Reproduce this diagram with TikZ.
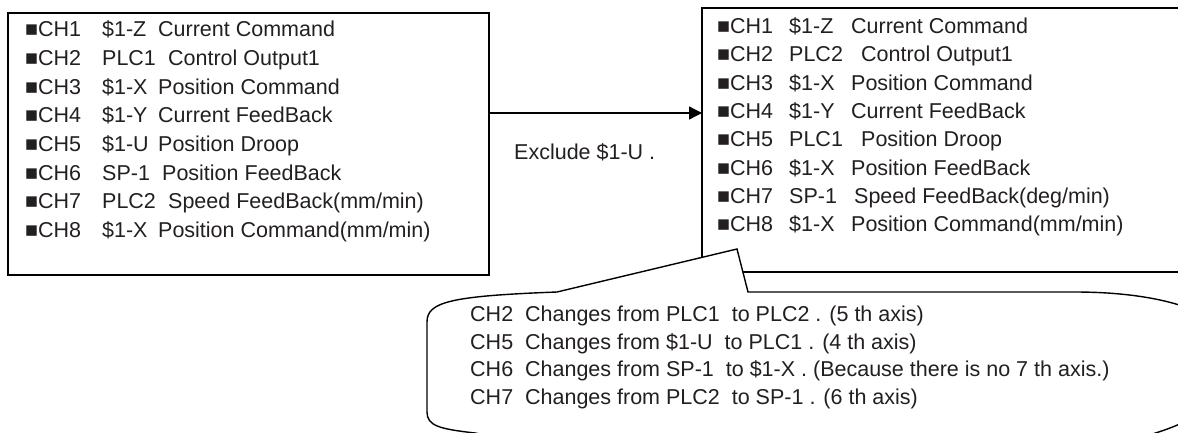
\documentclass[tikz,border=0pt]{standalone}
\usepackage{fontspec}
\setmainfont{Liberation Sans}
\usetikzlibrary{arrows.meta}
\definecolor{ink}{RGB}{35,31,32}
\newcommand\colw[2]{\makebox[#1][l]{#2}}
\begin{document}
\begin{tikzpicture}[x=1pt,y=-1pt,
  box/.style={draw=black, line width=1.4pt, inner sep=0pt, outer sep=0pt},
  txt/.style={anchor=base west, inner sep=0pt, font=\fontsize{21.5}{25}\selectfont, text=ink},
  arr/.style={draw=black, line width=1.3pt, -{Triangle[length=13pt,width=13pt]}},
  callout/.style={draw=black, line width=1.4pt, fill=white, line join=miter}]
\useasboundingbox (0,0) rectangle (1178,432);
\clip (0,0) rectangle (1178,432);
% boxes
\node[box, minimum width=481pt, minimum height=262pt] (lb) at (248.5,144) {};
\node[box, minimum width=560pt, minimum height=264pt] (rb) at (982,140) {};
% left box text
\node[txt] (l1) at (25,36.7)  {\colw{77pt}{■CH1}\colw{56pt}{\$1-Z}Current Command};
\node[txt] (l2) at (25,65.4)  {\colw{77pt}{■CH2}\colw{66pt}{PLC1}Control Output1};
\node[txt] (l3) at (25,94.0)  {\colw{77pt}{■CH3}\colw{56pt}{\$1-X}Position Command};
\node[txt] (l4) at (25,122.7) {\colw{77pt}{■CH4}\colw{56pt}{\$1-Y}Current FeedBack};
\node[txt] (l5) at (25,151.3) {\colw{77pt}{■CH5}\colw{56pt}{\$1-U}Position Droop};
\node[txt] (l6) at (25,180.0) {\colw{77pt}{■CH6}\colw{60pt}{SP-1}Position FeedBack};
\node[txt] (l7) at (25,208.6) {\colw{77pt}{■CH7}\colw{66pt}{PLC2}Speed FeedBack(mm/min)};
\node[txt] (l8) at (25,237.3) {\colw{77pt}{■CH8}\colw{56pt}{\$1-X}Position Command(mm/min)};
% right box text
\node[txt] (r1) at (717,33.3)  {\colw{72pt}{■CH1}\colw{62pt}{\$1-Z}Current Command};
\node[txt] (r2) at (717,61.6)  {\colw{72pt}{■CH2}\colw{72pt}{PLC2}Control Output1};
\node[txt] (r3) at (717,90.0)  {\colw{72pt}{■CH3}\colw{62pt}{\$1-X}Position Command};
\node[txt] (r4) at (717,118.3) {\colw{72pt}{■CH4}\colw{62pt}{\$1-Y}Current FeedBack};
\node[txt] (r5) at (717,146.7) {\colw{72pt}{■CH5}\colw{72pt}{PLC1}Position Droop};
\node[txt] (r6) at (717,175.0) {\colw{72pt}{■CH6}\colw{62pt}{\$1-X}Position FeedBack};
\node[txt] (r7) at (717,203.4) {\colw{72pt}{■CH7}\colw{65pt}{SP-1}Speed FeedBack(deg/min)};
\node[txt] (r8) at (717,231.7) {\colw{72pt}{■CH8}\colw{62pt}{\$1-X}Position Command(mm/min)};
% arrow
\draw[arr] (lb.east |- 0,113) -- (rb.west |- 0,113);
\node[txt] (ex) at (514,159.5) {Exclude \$1-U .};
% callout
\path[callout] (557,292) -- (737,249) -- (748,292) -- (1075,292)
  .. controls (1160,292) and (1240,312) .. (1235,362)
  .. controls (1235,400) and (1190,428) .. (1120,442)
  -- (520,442) -- (475,433)
  .. controls (440,429) and (427,426) .. (427,412)
  -- (427,322)
  .. controls (427,302) and (450,296) .. (557,292) -- cycle;
\node[txt] (c1) at (470,321.7) {CH2~~Changes from PLC1~~to PLC2 . (5 th axis)};
\node[txt] (c2) at (470,349.3) {CH5~~Changes from \$1-U~~to PLC1 . (4 th axis)};
\node[txt] (c3) at (470,376.9) {CH6~~Changes from SP-1~~to \$1-X . (Because there is no 7 th axis.)};
\node[txt] (c4) at (470,404.5) {CH7~~Changes from PLC2~~to SP-1 . (6 th axis)};
\end{tikzpicture}
\end{document}
